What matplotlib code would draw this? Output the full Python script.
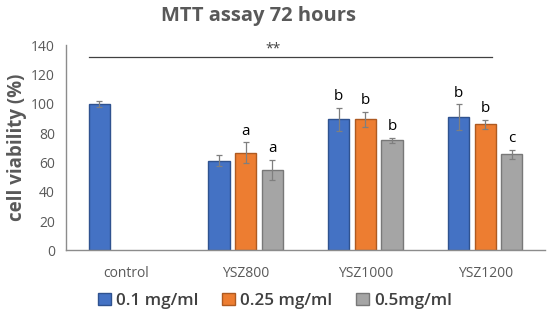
import matplotlib
matplotlib.use("Agg")
import matplotlib.pyplot as plt
import numpy as np
from matplotlib.patches import Patch

plt.rcParams['font.family'] = ['Open Sans', 'DejaVu Sans']

groups = ["control", "YSZ800", "YSZ1000", "YSZ1200"]
series = ["0.1 mg/ml", "0.25 mg/ml", "0.5mg/ml"]
vals = [
    [100, 61.3, 89.4, 90.8],
    [np.nan, 66.6, 89.4, 86.0],
    [np.nan, 54.7, 75.0, 65.4],
]
errs = [
    [2.0, 3.5, 7.7, 8.7],
    [np.nan, 7.0, 5.0, 3.2],
    [np.nan, 7.0, 1.8, 3.2],
]
letters = [
    ["", "", "b", "b"],
    ["", "a", "b", "b"],
    ["", "a", "b", "c"],
]
colors = ["#4472C4", "#ED7D31", "#A5A5A5"]
edges = ["#2F528F", "#AE5A21", "#787878"]

fig = plt.figure(figsize=(5.5, 3.24), dpi=100)
ax = fig.add_axes([0.12, 0.227, 0.871, 0.634])

x = np.arange(len(groups))
w = 0.178
step = 0.222
for i in range(3):
    xs = x + (i - 1) * step
    v = np.array(vals[i], dtype=float)
    e = np.array(errs[i], dtype=float)
    m = ~np.isnan(v)
    ax.bar(xs[m], v[m], width=w, color=colors[i], edgecolor=edges[i], linewidth=1.0, zorder=2)
    ax.errorbar(xs[m], v[m], yerr=e[m], fmt='none', ecolor='#7f7f7f', elinewidth=0.9, capsize=2.5, capthick=0.9, zorder=3)
    for j in range(len(groups)):
        if letters[i][j]:
            ax.text(xs[j], v[j] + e[j] + 2.5, letters[i][j], ha='center', va='bottom', fontsize=11, color='black')

# significance line
ax.plot([x[0] - step - w / 2, x[3] + 0.06], [132, 132], color='#404040', lw=0.9, clip_on=False)
ax.text(1.23, 132.0, "**", ha='center', va='bottom', fontsize=10, color='#404040')

ax.set_xlim(-0.5, 3.5)
ax.set_ylim(0, 140)
ax.set_yticks(range(0, 141, 20))
ax.set_xticks(x)
ax.set_xticklabels(groups)
ax.tick_params(axis='both', length=0, labelsize=10, colors='#595959', pad=8)
ax.tick_params(axis='x', pad=11)
for s in ['top', 'right']:
    ax.spines[s].set_visible(False)
for s in ['left', 'bottom']:
    ax.spines[s].set_color('#8c8c8c')
    ax.spines[s].set_linewidth(1.0)
ax.set_ylabel("cell viability (%)", fontsize=13.5, fontweight='bold', color='#595959', labelpad=3)

fig.suptitle("MTT assay 72 hours", x=0.47, y=0.98, fontsize=14.5, fontweight='bold', color='#595959')

handles = [Patch(facecolor=colors[i], edgecolor=edges[i], label=series[i]) for i in range(3)]
fig.legend(handles=handles, loc='center', bbox_to_anchor=(0.5, 0.072), ncol=3, frameon=False,
           handlelength=0.75, handleheight=0.75, handletextpad=0.3, columnspacing=1.4,
           prop={'weight': 'semibold', 'size': 12.3})
for t in fig.legends[0].get_texts():
    t.set_color('#404040')

fig.savefig("out.png", dpi=100)
